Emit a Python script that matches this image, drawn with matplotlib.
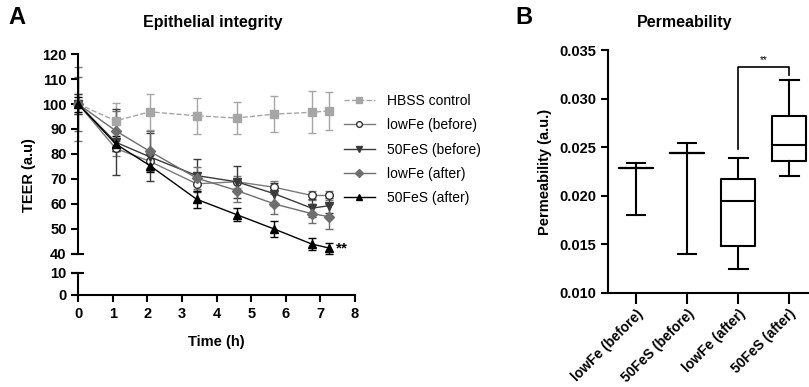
import matplotlib
matplotlib.use('Agg')
import matplotlib.pyplot as plt

plt.rcParams['font.family'] = ['Liberation Sans', 'DejaVu Sans']

# TEER time course (mean +/- SD)
time_h = [0, 1.08, 2.07, 3.42, 4.58, 5.67, 6.75, 7.25]
hbss = [100, 93.3, 96.9, 95.3, 94.4, 96.0, 96.7, 97.3]
hbss_err = [4, 7.0, 7.3, 7.3, 6.4, 7.2, 8.4, 7.6]
lowfe_before = [100, 82.2, 77.0, 68.0, 68.8, 66.6, 63.3, 63.3]
lowfe_before_err = [15, 3.0, 2.5, 3.0, 2.5, 2.5, 2.0, 2.0]
fes_before = [100, 84.7, 78.8, 71.3, 68.8, 64.0, 58.2, 59.2]
fes_before_err = [4, 13.3, 9.5, 6.8, 6.5, 4.5, 3.5, 3.0]
lowfe_after = [100, 89.3, 81.0, 70.3, 65.3, 59.9, 56.0, 54.8]
lowfe_after_err = [11, 8.0, 8.0, 4.5, 4.5, 4.0, 3.8, 5.0]
fes_after = [100, 84.0, 75.3, 61.8, 55.6, 49.8, 43.8, 42.2]
fes_after_err = [3, 3.0, 2.5, 3.5, 2.5, 3.2, 2.5, 2.2]

# permeability box plot summary
perm_groups = ['lowFe (before)', '50FeS (before)', 'lowFe (after)', '50FeS (after)']
perm_min = [0.0180, 0.0140, 0.0125, 0.0220]
perm_q1 = [0.0229, 0.0244, 0.0148, 0.0236]
perm_med = [0.0229, 0.0244, 0.0195, 0.0252]
perm_q3 = [0.0229, 0.0244, 0.0217, 0.0282]
perm_max = [0.0234, 0.0254, 0.0239, 0.0319]

W, H = 809, 387


def fx(px):
    return px / W


def fy(py):
    return 1 - py / H


def style_axis(ax):
    for s in ['top', 'right']:
        ax.spines[s].set_visible(False)
    for s in ['left', 'bottom']:
        ax.spines[s].set_linewidth(1.5)
    ax.tick_params(width=1.5, length=5, labelsize=10.5)
    for lab in ax.get_xticklabels() + ax.get_yticklabels():
        lab.set_fontweight('bold')


def teer_panel(fig):
    x0, x1 = 78.3, 355
    ax = fig.add_axes([fx(x0), fy(253.5), fx(x1 - x0), fy(54.3) - fy(253.5)])
    axb = fig.add_axes([fx(x0), fy(295), fx(x1 - x0), fy(273) - fy(295)])

    series = [
        ('HBSS control', hbss, hbss_err, dict(color='#a6a6a6', ls='--', marker='s', ms=5.5,
                                              mfc='#a6a6a6', mec='#a6a6a6')),
        ('lowFe (before)', lowfe_before, lowfe_before_err, dict(color='#7a7a7a', marker='o', ms=5.5,
                                                                mfc='white', mec='#333333')),
        ('50FeS (before)', fes_before, fes_before_err, dict(color='#3a3a3a', marker='v', ms=6,
                                                            mfc='#3a3a3a', mec='#3a3a3a')),
        ('lowFe (after)', lowfe_after, lowfe_after_err, dict(color='#6e6e6e', marker='D', ms=5,
                                                             mfc='#6e6e6e', mec='#6e6e6e')),
        ('50FeS (after)', fes_after, fes_after_err, dict(color='black', marker='^', ms=6,
                                                         mfc='black', mec='black')),
    ]
    handles = []
    for label, y, err, kw in series:
        c = ax.errorbar(time_h, y, yerr=err, label=label, lw=1, elinewidth=1, capsize=3,
                        capthick=1, clip_on=False, **kw)
        handles.append(c[0])

    ax.text(7.45, fes_after[-1], '**', fontsize=11, fontweight='bold', va='center', ha='left')

    ax.set_xlim(0, 8)
    ax.set_ylim(40, 120)
    ax.set_yticks(range(40, 121, 10))
    ax.set_xticks([])
    ax.spines['bottom'].set_visible(False)
    style_axis(ax)

    axb.set_xlim(0, 8)
    axb.set_ylim(0, 10)
    axb.set_yticks([0, 10])
    axb.set_xticks(range(0, 9))
    axb.set_xlabel('Time (h)', fontsize=10.5, fontweight='bold', labelpad=10)
    style_axis(axb)

    # break marks at the axis gap
    ax.plot([-0.022, 0.018], [0, 0], color='black', lw=1.5, transform=ax.transAxes, clip_on=False)
    axb.plot([-0.022, 0.018], [1, 1], color='black', lw=1.5, transform=axb.transAxes, clip_on=False)

    ax.set_ylabel('TEER (a.u)', fontsize=10.5, fontweight='bold')
    ax.yaxis.set_label_coords(-0.153, 0.394)

    ax.legend(handles=handles, labels=[s[0] for s in series], loc='upper left',
              bbox_to_anchor=(0.915, 0.865), frameon=False, fontsize=10, markerscale=0.75,
              handlelength=2.2, labelspacing=0.75, handletextpad=0.9)
    fig.text(fx(213), fy(23), 'Epithelial integrity', fontsize=11.5, fontweight='bold',
             ha='center', va='center')
    fig.text(fx(8), fy(18), 'A', fontsize=17, fontweight='bold', va='center')


def perm_panel(fig):
    ax = fig.add_axes([fx(608), fy(293), fx(202.5), fy(50) - fy(293)])
    stats = []
    for i in range(len(perm_groups)):
        stats.append(dict(whislo=perm_min[i], q1=perm_q1[i], med=perm_med[i],
                          q3=perm_q3[i], whishi=perm_max[i], fliers=[], label=perm_groups[i]))
    lw = dict(color='black', linewidth=1.5)
    ax.bxp(stats, positions=[1, 2, 3, 4], widths=0.67, capwidths=0.37, showfliers=False,
           boxprops=lw, medianprops=lw, whiskerprops=lw, capprops=lw)

    # significance bracket
    ax.plot([3, 3, 4, 4], [0.0248, 0.0333, 0.0333, 0.0324], color='black', lw=1.2)
    ax.text(3.5, 0.0334, '**', ha='center', va='bottom', fontsize=7)

    ax.set_xlim(0.45, 4.42)
    ax.set_ylim(0.010, 0.035)
    ax.set_yticks([0.010, 0.015, 0.020, 0.025, 0.030, 0.035])
    ax.set_yticklabels(['%.3f' % v for v in ax.get_yticks()])
    ax.set_xticks([1, 2, 3, 4])
    ax.set_xticklabels(perm_groups, rotation=45, ha='right', va='top', rotation_mode='anchor')
    style_axis(ax)
    ax.spines['bottom'].set_bounds(0.45, 4.6)
    ax.tick_params(axis='x', length=8, labelsize=10, pad=2)
    ax.set_ylabel('Permeability (a.u.)', fontsize=10.5, fontweight='bold', labelpad=5)
    fig.text(fx(685), fy(22), 'Permeability', fontsize=11.5, fontweight='bold',
             ha='center', va='center')
    fig.text(fx(515), fy(18), 'B', fontsize=17, fontweight='bold', va='center')


def main():
    fig = plt.figure(figsize=(W / 100.0, H / 100.0), dpi=100)
    teer_panel(fig)
    perm_panel(fig)
    fig.savefig('out.png', dpi=100)
    plt.close('all')


if __name__ == '__main__':
    main()
